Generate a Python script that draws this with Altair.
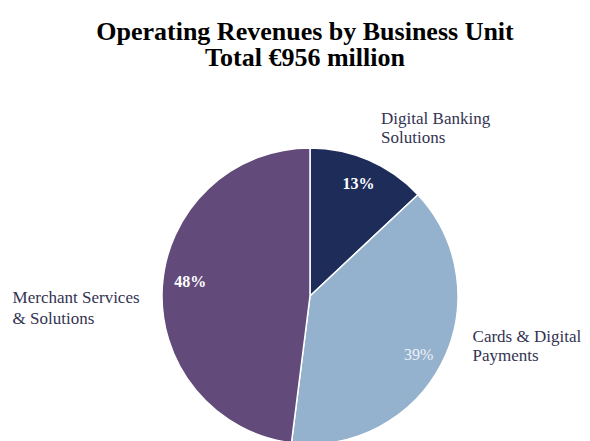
import altair as alt
import pandas as pd

categories = ["Digital Banking Solutions", "Cards & Digital Payments", "Merchant Services & Solutions"]
shares = [13, 39, 48]
pct_labels = ["13%", "39%", "48%"]
name_labels = ["Digital Banking\nSolutions", "Cards & Digital\nPayments", "Merchant Services\n& Solutions"]
slice_order = [1, 2, 3]
colors = ["#1e2c5a", "#94b1cd", "#624b7a"]
title_lines = ["Operating Revenues by Business Unit", "Total €956 million"]

df = pd.DataFrame({
    "category": categories,
    "share": shares,
    "pct": pct_labels,
    "name": name_labels,
    "ord": slice_order,
})

CX, CY = 302, 218
SERIF = "Liberation Serif"

arcs = alt.Chart(df).mark_arc(radius=148, stroke="white", strokeWidth=1.5).encode(
    theta=alt.Theta("share:Q", stack=True),
    order=alt.Order("ord:Q"),
    color=alt.Color("category:N", scale=alt.Scale(domain=categories, range=colors), legend=None),
    x=alt.value(CX),
    y=alt.value(CY),
)

lab_base = alt.Chart(df).transform_window(
    cum="sum(share)", sort=[alt.SortField("ord", order="ascending")]
).transform_calculate(mid="datum.cum - datum.share / 2")


def label(cat, field, radius, dx, dy, **kw):
    return lab_base.transform_filter(alt.datum.category == cat).mark_text(
        radius=radius, dx=dx, dy=dy, font=SERIF, lineBreak="\n", **kw
    ).encode(
        theta=alt.Theta("mid:Q", stack=False),
        x=alt.value(CX),
        y=alt.value(CY),
        text=alt.Text(f"{field}:N"),
    )


layers = [
    arcs,
    label(categories[0], "pct", 122, 0, 0, fontSize=16, fontWeight="bold", color="white"),
    label(categories[1], "pct", 122, 0, 4, fontSize=16, color="#eef2f7"),
    label(categories[2], "pct", 122, 2, -6, fontSize=16, fontWeight="bold", color="white"),
    label(categories[0], "name", 179, 0, -13, fontSize=17, align="left", color="#333352", lineHeight=19),
    label(categories[1], "name", 160, 20, -32, fontSize=17, align="left", color="#333352", lineHeight=19),
    label(categories[2], "name", 298, 0, 21, fontSize=17, align="left", color="#333352", lineHeight=21),
]

chart = alt.layer(*layers).properties(
    width=574,
    height=363,
    autosize=alt.AutoSizeParams(type="none"),
    padding={"top": 70, "left": 0, "right": 0, "bottom": 0},
    title=alt.TitleParams(
        title_lines,
        font=SERIF,
        fontSize=26,
        fontWeight="bold",
        color="black",
        anchor="middle",
        lineHeight=26,
        offset=7,
        dx=10,
    ),
).configure_view(strokeWidth=0)

chart.save("out.html", embed_options={"renderer": "svg", "actions": False})
